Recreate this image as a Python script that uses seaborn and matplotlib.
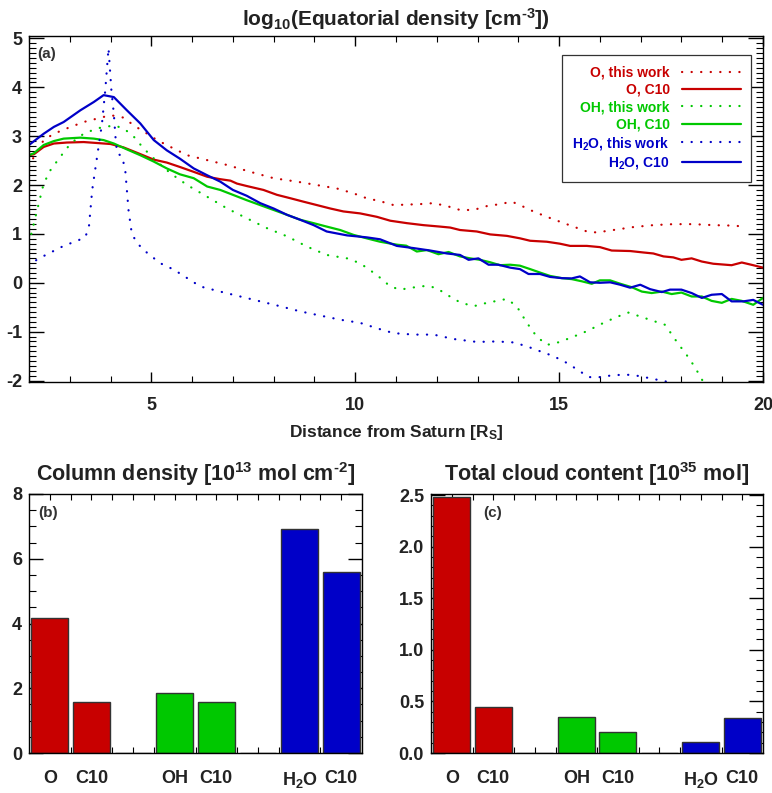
import numpy as np
import pandas as pd
import matplotlib
matplotlib.use("Agg")
import matplotlib.pyplot as plt
from matplotlib.ticker import MultipleLocator, FixedLocator, FormatStrFormatter
import seaborn as sns

# ---------------------------------------------------------------------------
# Equatorial density profiles, log10(n [cm^-3]) versus distance [R_S]
# ---------------------------------------------------------------------------
o_this_work = [
    (2.0, 2.37), (2.12, 2.58), (2.36, 2.92), (2.61, 3.05), (2.93, 3.16),
    (3.34, 3.29), (3.67, 3.36), (4.0, 3.43), (4.32, 3.38), (4.57, 3.22),
    (4.9, 3.05), (5.14, 2.92), (5.47, 2.78), (5.88, 2.61), (6.37, 2.51),
    (6.86, 2.41), (7.43, 2.27), (8.0, 2.14), (8.57, 2.07), (9.06, 2.0),
    (9.55, 1.93), (9.96, 1.83), (10.28, 1.73), (10.61, 1.67), (10.94, 1.59),
    (11.27, 1.60), (11.59, 1.61), (11.92, 1.63), (12.25, 1.57), (12.57, 1.49),
    (12.9, 1.49), (13.23, 1.57), (13.55, 1.61), (13.84, 1.66), (14.04, 1.59),
    (14.37, 1.46), (14.7, 1.35), (15.02, 1.25), (15.35, 1.15), (15.68, 1.05),
    (15.92, 1.03), (16.33, 1.08), (16.82, 1.14), (17.31, 1.18), (17.8, 1.20),
    (18.29, 1.20), (18.78, 1.18), (19.27, 1.17), (19.55, 1.15),
]
o_c10 = [
    (2.0, 2.61), (2.12, 2.63), (2.36, 2.78), (2.61, 2.85), (2.93, 2.87),
    (3.34, 2.88), (3.67, 2.86), (4.0, 2.84), (4.32, 2.77), (4.65, 2.66),
    (5.06, 2.52), (5.38, 2.46), (5.7, 2.37), (6.04, 2.27), (6.37, 2.17),
    (6.69, 2.12), (6.94, 2.09), (7.1, 2.03), (7.34, 1.98), (7.75, 1.90),
    (8.08, 1.80), (8.41, 1.73), (8.73, 1.66), (9.06, 1.59), (9.39, 1.52),
    (9.71, 1.46), (10.12, 1.42), (10.53, 1.35), (10.86, 1.27), (11.27, 1.22),
    (11.67, 1.18), (12.08, 1.15), (12.33, 1.13), (12.57, 1.08), (12.98, 1.05),
    (13.31, 0.99), (13.72, 0.96), (14.04, 0.91), (14.29, 0.86), (14.7, 0.84),
    (15.02, 0.80), (15.27, 0.755), (15.68, 0.755), (16.0, 0.73), (16.29, 0.66),
    (16.74, 0.65), (17.07, 0.62), (17.31, 0.60), (17.56, 0.54), (17.8, 0.52),
    (18.0, 0.47), (18.25, 0.50), (18.5, 0.435), (18.78, 0.39), (19.23, 0.36),
    (19.48, 0.415), (19.76, 0.36), (20.0, 0.31),
]
oh_this_work = [
    (2.0, 0.81), (2.08, 1.08), (2.2, 1.49), (2.36, 2.03), (2.53, 2.31),
    (2.77, 2.58), (3.02, 2.85), (3.34, 3.05), (3.67, 3.16), (4.08, 3.22),
    (4.32, 3.16), (4.57, 2.99), (4.81, 2.75), (5.14, 2.48), (5.47, 2.24),
    (5.88, 2.0), (6.37, 1.76), (6.86, 1.52), (7.34, 1.32), (7.83, 1.12),
    (8.33, 0.95), (8.82, 0.74), (9.3, 0.57), (9.8, 0.50), (10.12, 0.40),
    (10.53, 0.16), (10.86, -0.075), (11.1, -0.14), (11.43, -0.095),
    (11.76, -0.06), (12.0, -0.11), (12.25, -0.245), (12.57, -0.40),
    (12.9, -0.48), (13.23, -0.41), (13.72, -0.33), (13.96, -0.48),
    (14.21, -0.82), (14.45, -1.10), (14.7, -1.27), (14.94, -1.23),
    (15.27, -1.13), (15.68, -0.99), (16.09, -0.82), (16.41, -0.70),
    (16.7, -0.61), (16.99, -0.69), (17.31, -0.78), (17.6, -0.86),
    (17.88, -1.20), (18.21, -1.57), (18.46, -1.91), (18.7, -2.3),
]
oh_c10 = [
    (2.0, 2.61), (2.12, 2.65), (2.36, 2.82), (2.61, 2.90), (2.85, 2.95),
    (3.26, 2.97), (3.59, 2.95), (3.83, 2.92), (4.08, 2.85), (4.4, 2.73),
    (4.73, 2.61), (5.06, 2.48), (5.38, 2.34), (5.7, 2.22), (6.04, 2.14),
    (6.37, 1.97), (6.69, 1.90), (7.0, 1.80), (7.34, 1.69), (7.67, 1.59),
    (8.0, 1.49), (8.33, 1.39), (8.65, 1.29), (8.98, 1.22), (9.3, 1.15),
    (9.63, 1.08), (9.96, 0.98), (10.28, 0.91), (10.61, 0.84), (11.02, 0.78),
    (11.25, 0.76), (11.51, 0.64), (11.76, 0.67), (12.04, 0.585), (12.29, 0.63),
    (12.57, 0.54), (12.82, 0.50), (13.06, 0.47), (13.31, 0.42), (13.55, 0.36),
    (13.8, 0.37), (14.04, 0.35), (14.29, 0.28), (14.53, 0.21), (14.78, 0.14),
    (15.07, 0.095), (15.31, 0.075), (15.56, 0.03), (15.8, -0.02), (16.0, 0.05),
    (16.25, 0.05), (16.5, -0.02), (16.78, -0.09), (17.03, -0.18), (17.27, -0.21),
    (17.52, -0.18), (17.76, -0.23), (18.0, -0.20), (18.25, -0.28), (18.5, -0.28),
    (18.74, -0.37), (18.99, -0.41), (19.23, -0.33), (19.48, -0.37),
    (19.76, -0.45), (20.0, -0.31),
]
h2o_this_work = [
    (2.0, 0.33), (2.2, 0.48), (2.53, 0.62), (2.85, 0.755), (3.18, 0.86),
    (3.38, 0.93), (3.47, 1.15), (3.55, 1.90), (3.67, 2.58), (3.79, 3.26),
    (3.87, 3.94), (3.95, 4.80), (4.02, 3.94), (4.08, 3.46), (4.12, 2.99),
    (4.16, 2.65), (4.28, 2.59), (4.36, 2.31), (4.44, 1.49), (4.52, 1.01),
    (4.65, 0.81), (4.9, 0.61), (5.22, 0.40), (5.55, 0.27), (5.88, 0.095),
    (6.2, -0.075), (6.69, -0.18), (7.18, -0.28), (7.67, -0.38), (8.16, -0.48),
    (8.65, -0.585), (9.14, -0.67), (9.63, -0.755), (10.12, -0.82),
    (10.61, -0.95), (10.94, -1.03), (11.43, -1.06), (11.92, -1.06),
    (12.41, -1.15), (12.98, -1.21), (13.47, -1.20), (13.88, -1.22),
    (14.21, -1.30), (14.53, -1.40), (14.86, -1.50), (15.19, -1.64),
    (15.51, -1.81), (15.72, -1.93), (16.0, -1.93), (16.33, -1.89),
    (16.66, -1.88), (16.99, -1.91), (17.31, -1.97), (17.6, -2.01), (17.9, -2.2),
]
h2o_c10 = [
    (2.0, 2.82), (2.36, 3.05), (2.61, 3.19), (2.85, 3.29), (3.26, 3.53),
    (3.59, 3.70), (3.83, 3.84), (4.08, 3.80), (4.4, 3.53), (4.73, 3.26),
    (5.06, 2.92), (5.38, 2.71), (5.7, 2.54), (6.04, 2.34), (6.37, 2.20),
    (6.69, 2.07), (7.0, 1.90), (7.34, 1.78), (7.67, 1.63), (8.0, 1.52),
    (8.33, 1.39), (8.65, 1.29), (8.98, 1.18), (9.3, 1.05), (9.8, 0.97),
    (10.28, 0.93), (10.61, 0.89), (11.02, 0.755), (11.43, 0.71), (11.84, 0.66),
    (12.25, 0.60), (12.57, 0.57), (12.78, 0.47), (13.02, 0.50), (13.27, 0.37),
    (13.51, 0.37), (13.8, 0.31), (14.04, 0.28), (14.25, 0.18), (14.53, 0.18),
    (14.78, 0.12), (15.07, 0.095), (15.31, 0.09), (15.51, 0.13), (15.76, 0.01),
    (16.0, 0.0), (16.25, 0.01), (16.5, -0.04), (16.74, -0.10), (16.99, -0.04),
    (17.23, -0.13), (17.52, -0.19), (17.72, -0.14), (18.0, -0.14),
    (18.25, -0.21), (18.5, -0.31), (18.74, -0.245), (18.99, -0.23),
    (19.23, -0.38), (19.52, -0.38), (19.76, -0.35), (20.0, -0.45),
]

profile_labels = ["O, this work", "O, C10", "OH, this work", "OH, C10",
                  "H$_2$O, this work", "H$_2$O, C10"]
profiles = [o_this_work, o_c10, oh_this_work, oh_c10, h2o_this_work, h2o_c10]

# ---------------------------------------------------------------------------
# Column densities [1e13 mol cm^-2] and total cloud content [1e35 mol]
# ---------------------------------------------------------------------------
bar_slots = ["O", "O_C10", "gap1", "OH", "OH_C10", "gap2", "H2O", "H2O_C10"]
bar_tick_labels = ["O", "C10", "", "OH", "C10", "", "H$_2$O", "C10"]
column_density = [4.18, 1.59, 0.0, 1.85, 1.57, 0.0, 6.91, 5.60]
cloud_content = [2.48, 0.45, 0.0, 0.35, 0.20, 0.0, 0.11, 0.34]

RED, GREEN, BLUE = "#c80000", "#00c800", "#0000c8"
GAP = "#7a1010"
INK = "#222222"
HY = "\u2010"  # plain hyphen for exponents, instead of a math minus

profile_colors = [RED, RED, GREEN, GREEN, BLUE, BLUE]
bar_colors = [RED, RED, GAP, GREEN, GREEN, GAP, BLUE, BLUE]

# ---------------------------------------------------------------------------
sns.set_theme(style="ticks")
plt.rcParams.update({
    "font.family": ["Liberation Sans", "DejaVu Sans"],
    "font.weight": "bold",
    "axes.titleweight": "bold",
    "axes.labelweight": "bold",
    "mathtext.fontset": "custom",
    "mathtext.rm": "Liberation Sans:bold",
    "mathtext.bf": "Liberation Sans:bold",
    "mathtext.it": "Liberation Sans:bold",
    "mathtext.default": "bf",
    "axes.unicode_minus": False,
    "text.color": INK,
    "axes.labelcolor": INK,
    "axes.edgecolor": "black",
    "axes.linewidth": 1.0,
})

W, H = 772, 793
fig = plt.figure(figsize=(W / 100, H / 100), dpi=100)


def px_axes(left, top, right, bottom):
    return fig.add_axes([left / W, 1 - bottom / H, (right - left) / W, (bottom - top) / H])


# ----------------------------- panel (a) -----------------------------------
ax = px_axes(29, 36, 763, 382)

rows = []
for lab, pts in zip(profile_labels, profiles):
    for r, v in pts:
        rows.append({"r": r, "logn": v, "label": lab})
prof_df = pd.DataFrame(rows)

palette = dict(zip(profile_labels, profile_colors))
dash_map = {lab: ((0.1, 4.2) if "this work" in lab else "") for lab in profile_labels}

sns.lineplot(data=prof_df, x="r", y="logn", hue="label", style="label",
             hue_order=profile_labels, style_order=profile_labels,
             palette=palette, dashes=dash_map, estimator=None, sort=True,
             lw=1.6, dash_capstyle="round", ax=ax)

ax.set_xlim(2, 20)
ax.set_ylim(-2.03, 5.05)
ax.xaxis.set_major_locator(MultipleLocator(5))
ax.xaxis.set_minor_locator(MultipleLocator(1))
ax.yaxis.set_major_locator(MultipleLocator(1))
ax.yaxis.set_minor_locator(MultipleLocator(0.1))
ax.tick_params(which="both", direction="in", top=True, right=True,
               color="black", labelcolor=INK, labelsize=13)
ax.tick_params(axis="y", which="major", length=11, width=1, pad=5)
ax.tick_params(axis="y", which="minor", length=5, width=0.8)
ax.tick_params(axis="x", which="major", length=7, width=1, pad=11)
ax.tick_params(axis="x", which="minor", length=4, width=0.8)
ax.set_xlabel("Distance from Saturn [R$_S$]", fontsize=12.5, labelpad=6)
ax.set_ylabel("")
ax.set_title("log$_{10}$(Equatorial density [cm$^{" + HY + "3}$])", fontsize=15, pad=7)
ax.text(0.011, 0.967, "(a)", transform=ax.transAxes, ha="left", va="top",
        fontsize=11, color="#333333")

handles, labs = ax.get_legend_handles_labels()
if ax.get_legend() is not None:
    ax.get_legend().remove()
leg = ax.legend(handles, labs, loc="upper right",
                bbox_to_anchor=(751 / W, 1 - 55 / H), bbox_transform=fig.transFigure,
                markerfirst=False, frameon=True, fancybox=False, framealpha=1,
                edgecolor="#333333", fontsize=10, handlelength=4.2,
                handletextpad=0.9, labelspacing=0.24, borderpad=0.75,
                borderaxespad=0)
leg.get_frame().set_linewidth(0.9)
for h in leg.legend_handles:
    h.set_dash_capstyle("round")
    h.set_linewidth(1.6)
for t, lab in zip(leg.get_texts(), labs):
    t.set_color(palette[lab])


# --------------------------- panels (b), (c) -------------------------------
def bar_panel(ax, values, ymax, major, minor, fmt, title, tag, tag_x):
    sns.barplot(x=bar_slots, y=values, hue=bar_slots, order=bar_slots,
                hue_order=bar_slots, palette=dict(zip(bar_slots, bar_colors)),
                width=0.88, saturation=1, dodge=False, legend=False,
                edgecolor="#333333", linewidth=1.0, ax=ax)
    ax.set_xlim(-0.5, len(bar_slots) - 0.5)
    ax.set_ylim(0, ymax)
    ax.set_xticks(range(len(bar_slots)))
    ax.set_xticklabels(bar_tick_labels)
    ax.xaxis.set_minor_locator(FixedLocator(np.arange(0.5, len(bar_slots) - 0.5, 1.0)))
    ax.yaxis.set_major_locator(MultipleLocator(major))
    ax.yaxis.set_minor_locator(MultipleLocator(minor))
    ax.yaxis.set_major_formatter(FormatStrFormatter(fmt))
    ax.tick_params(which="both", direction="in", top=True, right=True,
                   color="black", labelcolor=INK)
    ax.tick_params(axis="x", which="both", length=4, width=0.8, labelsize=13, pad=12)
    ax.tick_params(axis="y", which="major", length=10, width=1, labelsize=13, pad=5)
    ax.tick_params(axis="y", which="minor", length=5, width=0.8)
    ax.set_xlabel("")
    ax.set_ylabel("")
    ax.set_title(title, fontsize=15.5, pad=9)
    ax.text(tag_x, 0.952, tag, transform=ax.transAxes, ha="left", va="top",
            fontsize=11, color="#333333")


ax_b = px_axes(29, 494, 362, 753)
bar_panel(ax_b, column_density, 8, 2, 0.5, "%d",
          "Column density [10$^{13}$ mol cm$^{" + HY + "2}$]", "(b)", 0.027)

ax_c = px_axes(431, 494, 763, 753)
bar_panel(ax_c, cloud_content, 2.51, 0.5, 0.1, "%.1f",
          "Total cloud content [10$^{35}$ mol]", "(c)", 0.157)

fig.savefig("out.png", dpi=100)
